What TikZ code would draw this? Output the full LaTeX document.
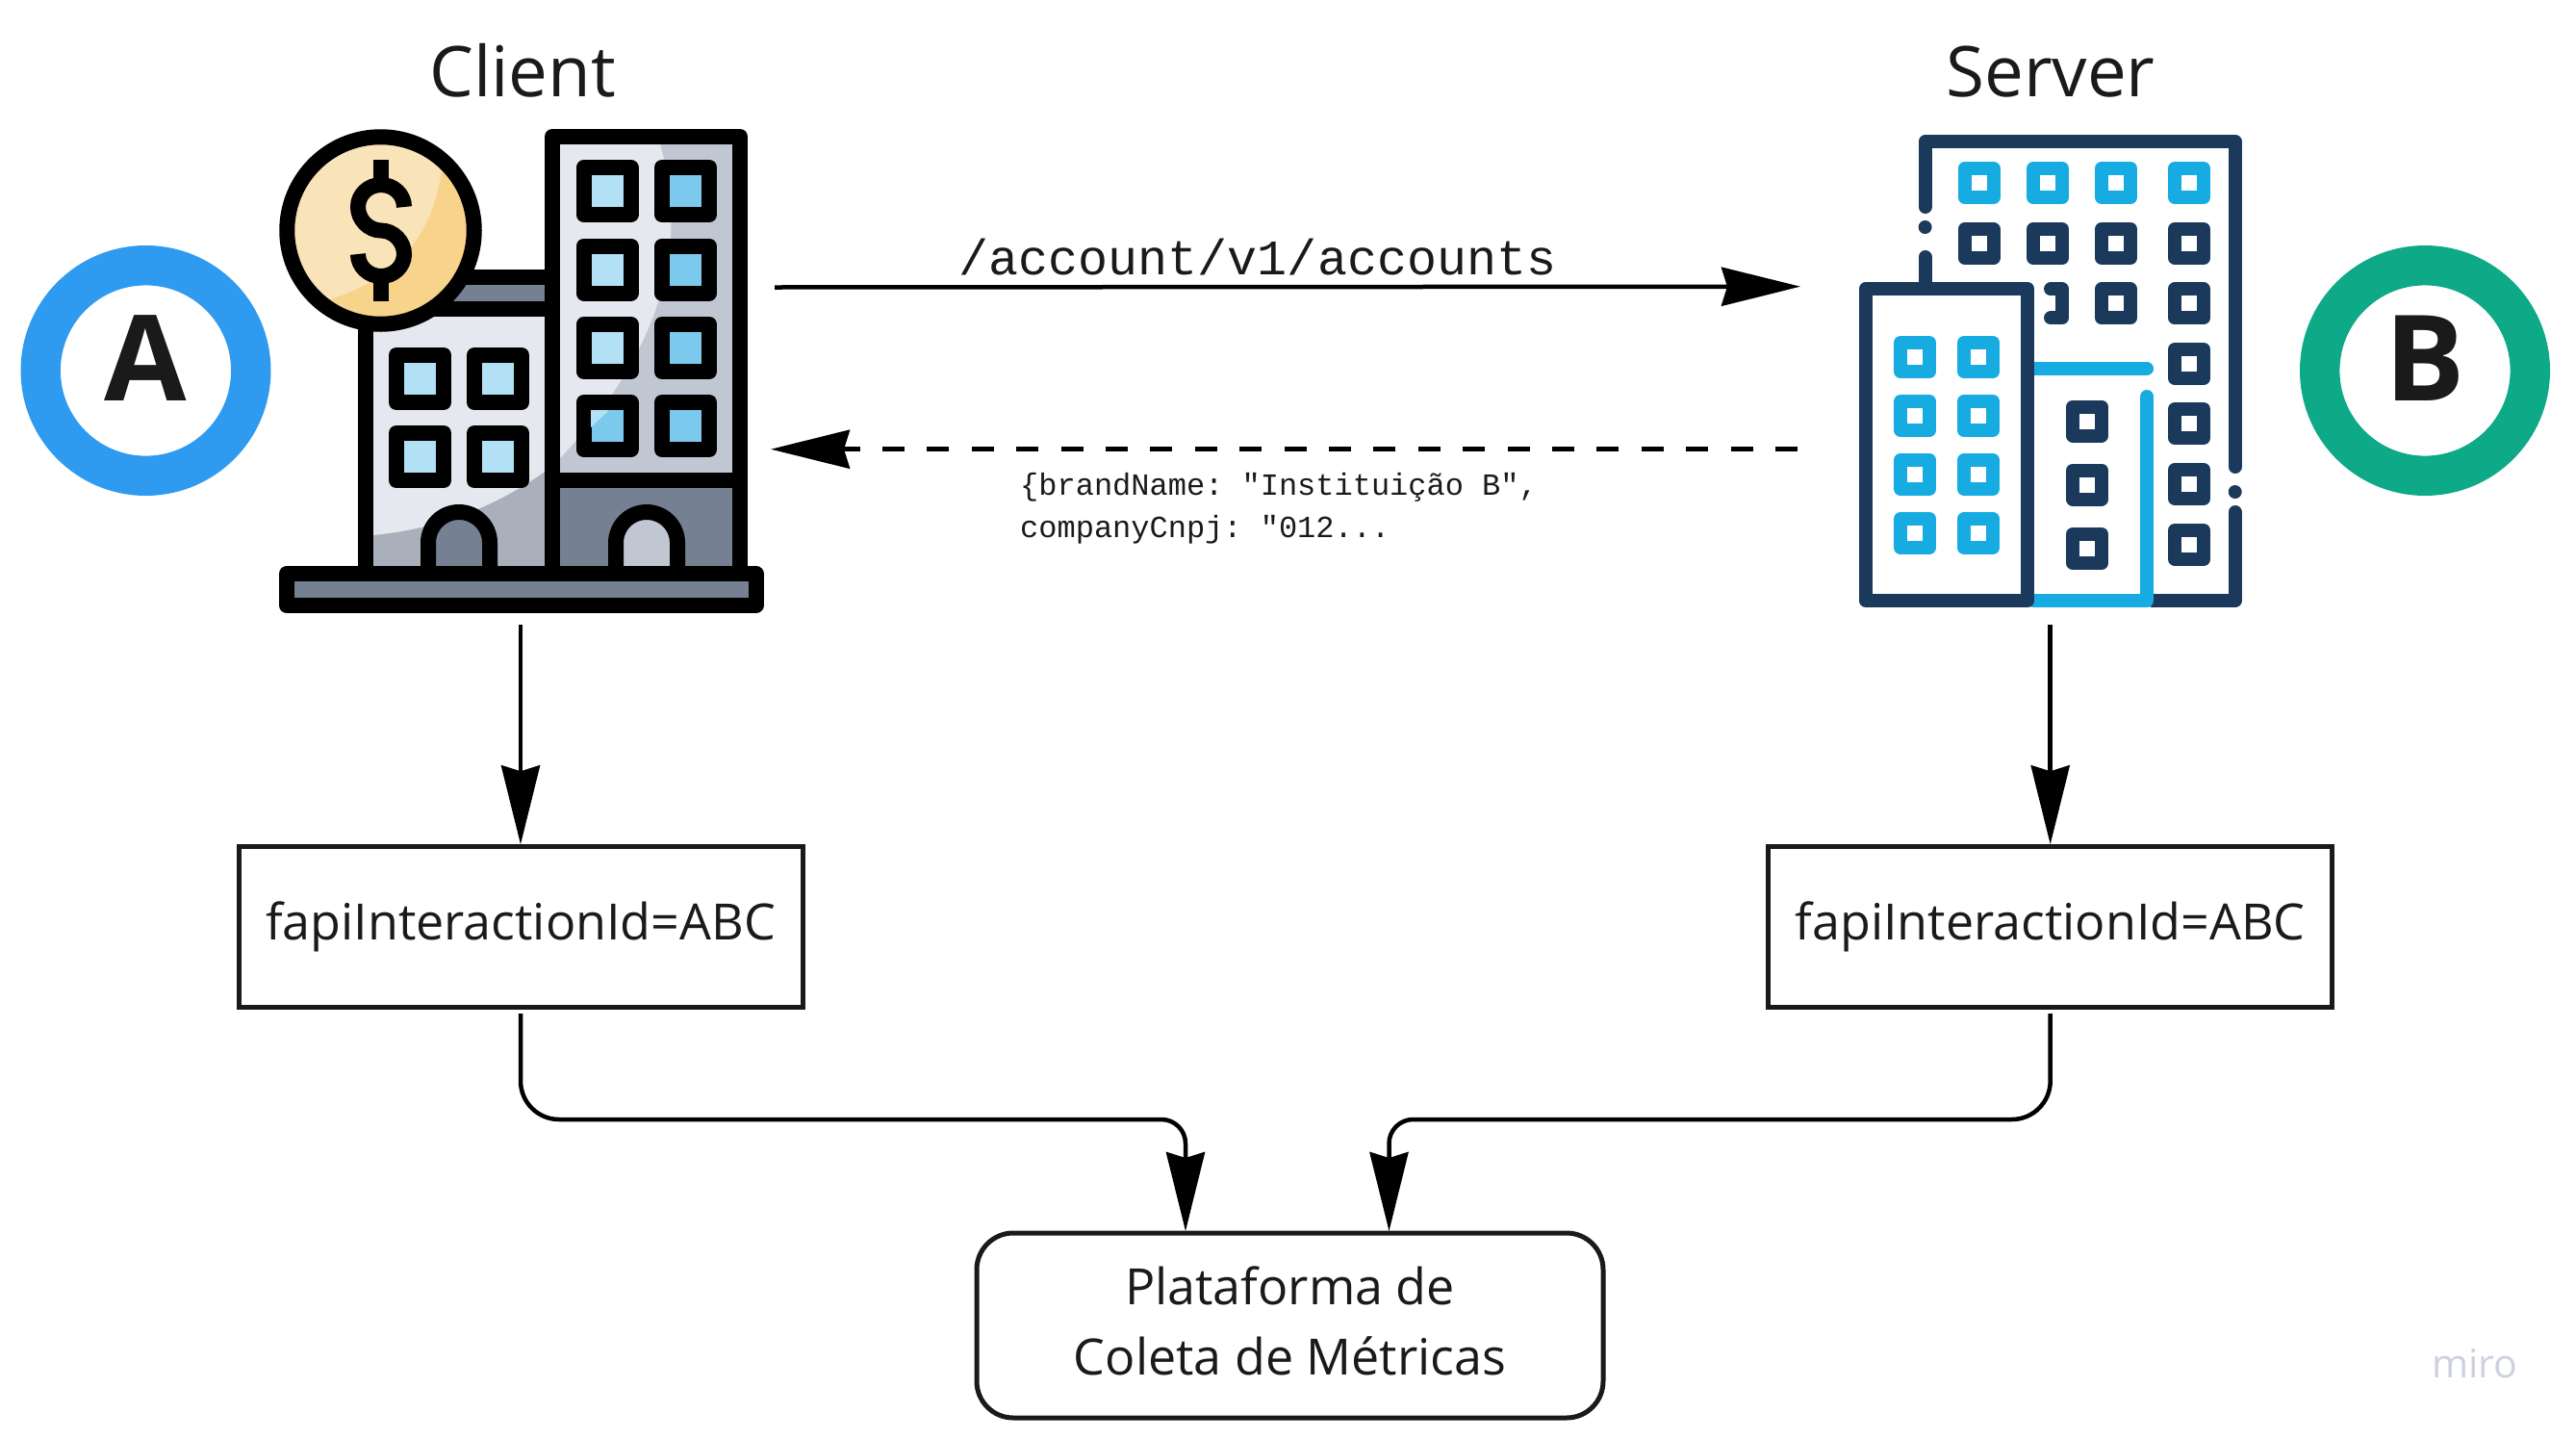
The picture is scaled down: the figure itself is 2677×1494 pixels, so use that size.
\documentclass[tikz,border=0pt]{standalone}
\usepackage{fontspec}
\setmainfont{Open Sans}
\setmonofont{Liberation Mono}
\usetikzlibrary{arrows.meta}
\definecolor{ink}{HTML}{1A1A1A}
\definecolor{slate}{HTML}{758093}
\definecolor{wallpale}{HTML}{E5E8EE}
\definecolor{wallmid}{HTML}{C0C7D2}
\definecolor{walldark}{HTML}{A9B0BC}
\definecolor{glasspale}{HTML}{B2E0F5}
\definecolor{glassdeep}{HTML}{7CC9EE}
\definecolor{coinpale}{HTML}{F9E3B8}
\definecolor{coindeep}{HTML}{F8D38C}
\definecolor{navy}{HTML}{1B3A5B}
\definecolor{sky}{HTML}{17ACE1}
\definecolor{ringblue}{HTML}{2F9BF0}
\definecolor{ringgreen}{HTML}{0EA987}
\definecolor{miromark}{HTML}{CDD0DE}
\tikzset{
  outline/.style={draw=black,line width=16pt,line join=round},
  pane/.style={outline,minimum size=49pt,inner sep=0pt},
  panepale/.style={pane,fill=glasspale},
  panedeep/.style={pane,fill=glassdeep},
  navyline/.style={draw=navy,line width=14pt,line cap=round,line join=round},
  skyline/.style={draw=sky,line width=14pt,line cap=round,line join=round},
  square/.style={line width=14pt,line join=round,fill=white,minimum size=30pt,inner sep=0pt},
  navysquare/.style={square,draw=navy},
  skysquare/.style={square,draw=sky},
  ring/.style={circle,line width=41.4pt,minimum size=218.6pt,inner sep=0pt},
  letter/.style={text=ink,font=\fontsize{124}{124}\selectfont\bfseries},
  heading/.style={anchor=base,text=ink,font=\fontsize{72.7}{88}\selectfont},
  idbox/.style={draw=ink,line width=5pt,minimum width=586pt,minimum height=166.5pt,inner sep=0pt,text=ink,font=\fontsize{52}{63}\selectfont},
  platbox/.style={draw=ink,line width=5pt,rounded corners=38pt,minimum width=651pt,minimum height=192pt,inner sep=0pt,align=center,text depth=10pt,text=ink,font=\fontsize{52}{73}\selectfont},
  conn/.style={draw=black,line width=4.5pt,-{Stealth[length=82pt,width=40pt,inset=6pt]}},
}
\begin{document}
\begin{tikzpicture}[x=1pt,y=-1pt]
\useasboundingbox (0,0) rectangle (2677,1494);
% badges
\node[ring,draw=ringblue] (ringA) at (151.5,385) {};
\node[letter] (letterA) at (151.5,372.5) {A};
\node[ring,draw=ringgreen] (ringB) at (2520,385) {};
\node[letter] (letterB) at (2520,372.5) {B};
% titles
\node[heading] (client) at (543,100) {Client};
\node[heading] (server) at (2131,100) {Server};
% client walls
\fill[wallmid] (582,150) rectangle (761,491);
\fill[walldark] (387.5,329) rectangle (566,588);
\fill[slate] (582,507) rectangle (761,588);
\fill[slate] (400,296) rectangle (566,313);
\fill[wallpale] (582,150) -- (686,150) .. controls (712,240) and (700,351) .. (582,476) -- cycle;
\fill[wallpale] (387.5,329) -- (566,329) -- (566,490) .. controls (510,530) and (450,550) .. (387.5,556) -- cycle;
\draw[outline] (400,288) -- (574,288);
\draw[outline] (379.5,330) -- (379.5,596);
\draw[outline] (370,321) -- (574,321);
\draw[outline] (574,142) rectangle (769,596);
\draw[outline] (574,499) -- (769,499);
% client windows
\node[panepale] (t11) at (631,198.5) {};
\node[panepale] (t21) at (631,280) {};
\node[panepale] (t31) at (631,361.5) {};
\node[panedeep] (t41) at (631,442.5) {};
\fill[glasspale] (614,426) -- (633,426) -- (614,444) -- cycle;
\node[panedeep] (t12) at (712.5,198.5) {};
\node[panedeep] (t22) at (712.5,280) {};
\node[panedeep] (t32) at (712.5,361.5) {};
\node[panedeep] (t42) at (712.5,442.5) {};
\node[panepale] (l11) at (436.5,393.5) {};
\node[panepale] (l12) at (517.5,393.5) {};
\node[panepale] (l21) at (436.5,474.5) {};
\node[panepale] (l22) at (517.5,474.5) {};
% client doors
\draw[outline,fill=slate] (445,596) -- (445,564) arc[start angle=180,end angle=0,radius=32pt] -- (509,596);
\draw[outline,fill=wallmid] (640,596) -- (640,564) arc[start angle=180,end angle=0,radius=32pt] -- (704,596);
% client base
\draw[outline,fill=slate] (298,596) rectangle (785.5,629);
% coin
\fill[coindeep] (395.5,239.5) circle[radius=97.25pt];
\begin{scope}
\clip (395.5,239.5) circle[radius=97.25pt];
\fill[coinpale] (290,130) -- (463,130) -- (460,170) .. controls (450,250) and (410,290) .. (340,312) -- (290,350) -- cycle;
\end{scope}
\draw[outline] (395.5,239.5) circle[radius=97.25pt];
\draw[draw=black,line width=16pt] (420,215) .. controls (420,202) and (409,192) .. (396,192) .. controls (383,192) and (372,202) .. (372,215) .. controls (372,228) and (383,239.5) .. (396,239.5) .. controls (409,239.5) and (420,251) .. (420,264) .. controls (420,277) and (409,287) .. (396,287) .. controls (383,287) and (372,277) .. (372,264);
\draw[draw=black,line width=16pt] (396,166) -- (396,192);
\draw[draw=black,line width=16pt] (396,287) -- (396,313);
% server outline
\draw[navyline] (2000.6,215) -- (2000.6,147) -- (2322.7,147) -- (2322.7,485);
\fill[navy] (2000.6,236) circle[radius=7pt];
\draw[navyline] (2000.6,267) -- (2000.6,300);
\fill[navy] (2322.7,511) circle[radius=7pt];
\draw[navyline] (2322.7,532) -- (2322.7,624) -- (2237,624);
\draw[skyline] (2114,383) -- (2231,383);
\draw[skyline] (2231,412) -- (2231,624) -- (2113,624);
\draw[navyline] (1938.7,300) rectangle (2107,624);
% server windows
\node[skysquare] (s11) at (2056.6,190) {};
\node[skysquare] (s12) at (2128,190) {};
\node[skysquare] (s13) at (2199,190) {};
\node[skysquare] (s14) at (2275,190) {};
\node[navysquare] (s21) at (2056.6,253) {};
\node[navysquare] (s22) at (2128,253) {};
\node[navysquare] (s23) at (2199,253) {};
\node[navysquare] (s24) at (2275,253) {};
\draw[navyline] (2131,300.4) -- (2143,300.4) -- (2143,330.4) -- (2131,330.4);
\node[navysquare] (s33) at (2199,315.4) {};
\node[navysquare] (s34) at (2275,315.4) {};
\node[navysquare] (s44) at (2275,378) {};
\node[navysquare] (s54) at (2275,440) {};
\node[navysquare] (s64) at (2275,503) {};
\node[navysquare] (s74) at (2275,566) {};
\node[navysquare] (m1) at (2169,437.5) {};
\node[navysquare] (m2) at (2169,503.5) {};
\node[navysquare] (m3) at (2169,570) {};
\node[skysquare] (f11) at (1990,371) {};
\node[skysquare] (f12) at (2056,371) {};
\node[skysquare] (f21) at (1990,432) {};
\node[skysquare] (f22) at (2056,432) {};
\node[skysquare] (f31) at (1990,493) {};
\node[skysquare] (f32) at (2056,493) {};
\node[skysquare] (f41) at (1990,554) {};
\node[skysquare] (f42) at (2056,554) {};
% request and response
\coordinate (reqfrom) at (805,298.5);
\coordinate (reqto) at (1871,297.7);
\coordinate (respfrom) at (1868,466.7);
\coordinate (respto) at (801,466.7);
\draw[conn] (reqfrom) -- (reqto);
\draw[conn,dash pattern=on 23pt off 23.4pt] (respfrom) -- (respto);
\node[anchor=base,text=ink,font=\fontsize{51.7}{60}\selectfont\ttfamily] (reqtext) at (1307,285.5) {/account/v1/accounts};
\node[anchor=north west,inner sep=0pt,align=left,text=ink,font=\fontsize{32}{44.5}\selectfont\ttfamily] (resptext) at (1060,491) {\{brandName: "Instituição B",\\companyCnpj: "012...};
% boxes
\node[idbox] (boxA) at (541,963) {fapiInteractionId=ABC};
\node[idbox] (boxB) at (2130.7,963) {fapiInteractionId=ABC};
\node[platbox] (plat) at (1340.5,1377) {Plataforma de\\Coleta de Métricas};
\coordinate (clientfoot) at (541,649);
\coordinate (serverfoot) at (2130.7,649);
\coordinate (boxAfoot) at (541,1053);
\coordinate (boxBfoot) at (2130.7,1053);
\coordinate (platL) at (1232,1279);
\coordinate (platR) at (1443.5,1279);
\draw[conn] (clientfoot) -- (boxA.north);
\draw[conn] (serverfoot) -- (boxB.north);
\draw[conn] (boxAfoot) [rounded corners=40pt] -- (541,1163) [rounded corners=25pt] -- (1232,1163) -- (platL);
\draw[conn] (boxBfoot) [rounded corners=40pt] -- (2130.7,1163) [rounded corners=25pt] -- (1443.5,1163) -- (platR);
% watermark
\node[anchor=base,text=miromark,font=\fontsize{41}{50}\selectfont] (miro) at (2572,1431) {miro};
\end{tikzpicture}
\end{document}
